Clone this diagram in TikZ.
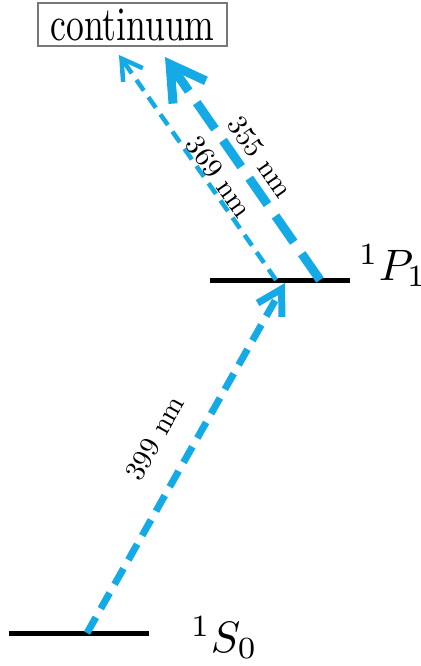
\documentclass[tikz,border=0pt]{standalone}
\usetikzlibrary{arrows.meta}
\definecolor{beam}{RGB}{20,170,230}
\definecolor{boxgray}{RGB}{120,120,120}
\begin{document}
\begin{tikzpicture}[x=1pt,y=-1pt,
  level/.style={line width=5pt, black},
  beamA/.style={beam, line width=7pt, dash pattern=on 18pt off 10pt, -{Straight Barb[length=24pt,width=28pt]}},
  beamB/.style={beam, line width=4.5pt, dash pattern=on 13pt off 8pt, -{Straight Barb[length=20pt,width=24pt]}},
  beamC/.style={beam, line width=9pt, dash pattern=on 32pt off 14pt, -{Straight Barb[length=34pt,width=40pt]}},
  wl/.style={font=\fontsize{10}{12}\selectfont, inner sep=0pt},
  statelbl/.style={font=\fontsize{10}{12}\selectfont, inner sep=0pt, anchor=base west},
]
\useasboundingbox (0,0) rectangle (420,666);
\node[draw=boxgray, line width=1.5pt, minimum width=189pt, minimum height=43pt, inner sep=0pt, font=\fontsize{10}{12}\selectfont] (cont) at (132.5,24.5) {\scalebox{3.56}[4.8]{continuum}};
\coordinate (s0a) at (9,633);
\coordinate (s0b) at (149,633);
\coordinate (p1a) at (210,280);
\coordinate (p1b) at (350,280);
\coordinate (exc) at (87,633);
\coordinate (top399) at (285,283);
\coordinate (start369) at (276,280);
\coordinate (ion369) at (119,55);
\coordinate (start355) at (320,280);
\coordinate (ion355) at (165,57);
\draw[level] (s0a) -- (s0b);
\draw[level] (p1a) -- (p1b);
\draw[beamA] (exc) -- (top399);
\draw[beamB] (start369) -- (ion369);
\draw[beamC] (start355) -- (ion355);
\node[wl, rotate=60.7] (l399) at (155,438) {\scalebox{2.85}{399 nm}};
\node[wl, rotate=-55] (l355) at (260,157) {\scalebox{2.85}{355 nm}};
\node[wl, rotate=-54.5] (l369) at (219,177) {\scalebox{2.85}{369 nm}};
\node[statelbl] (p1lbl) at (359,280) {\scalebox{4.4}{$^1P_1$}};
\node[statelbl] (s0lbl) at (191,652) {\scalebox{4.4}{$^1S_0$}};
\end{tikzpicture}
\end{document}
